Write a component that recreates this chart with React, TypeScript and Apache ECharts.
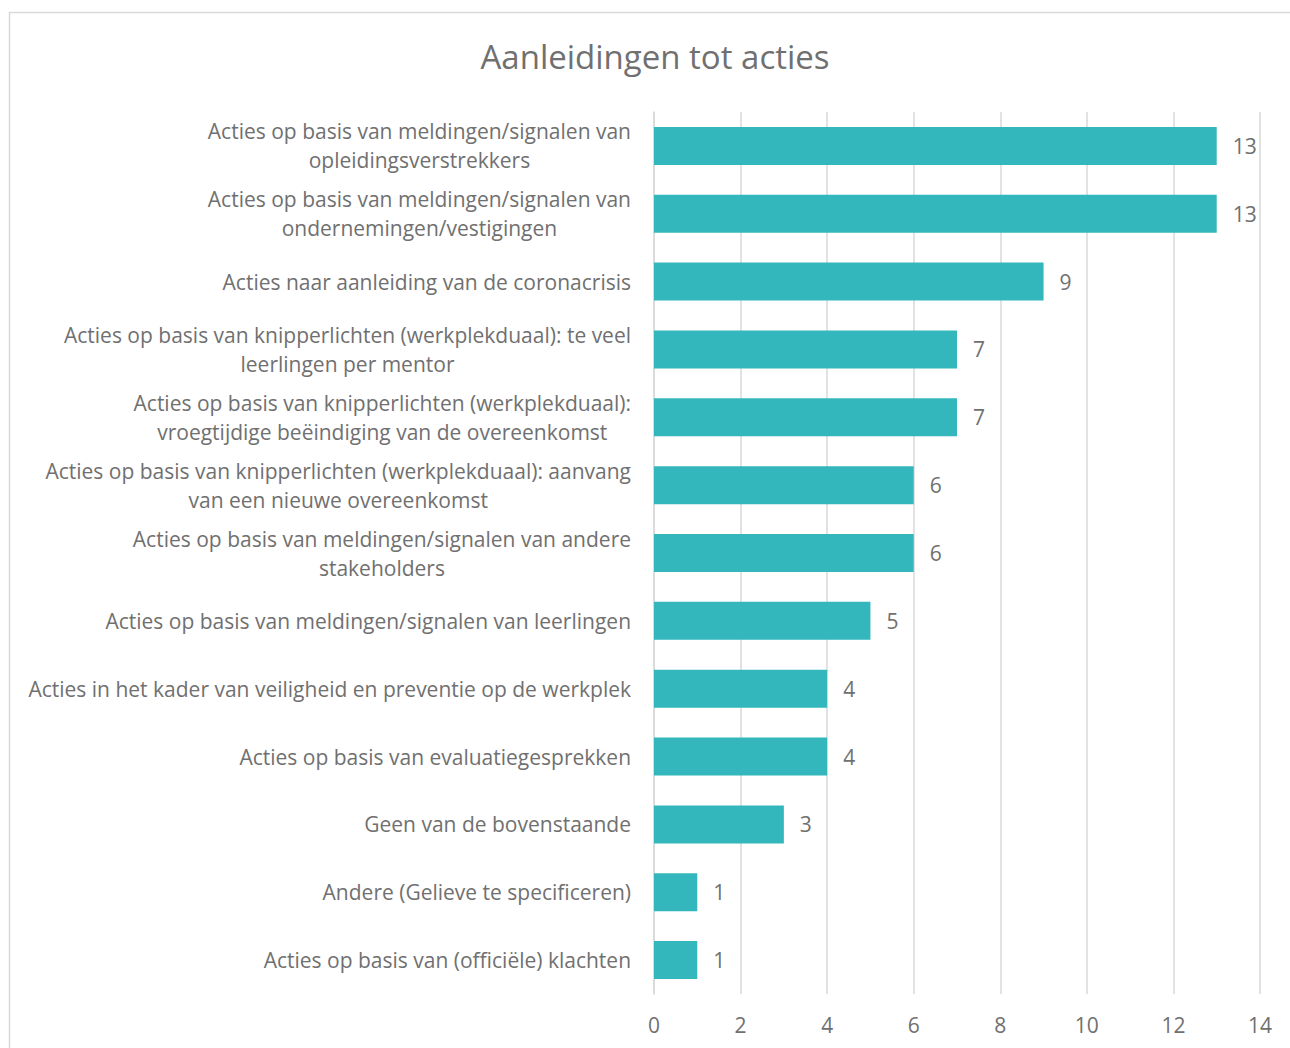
import React, { useEffect, useRef } from "react";
import * as echarts from "echarts";

const title = "Aanleidingen tot acties";

const categories: string[] = [
  "Acties op basis van meldingen/signalen van\nopleidingsverstrekkers",
  "Acties op basis van meldingen/signalen van\nondernemingen/vestigingen",
  "Acties naar aanleiding van de coronacrisis",
  "Acties op basis van knipperlichten (werkplekduaal): te veel\nleerlingen per mentor",
  "Acties op basis van knipperlichten (werkplekduaal):\nvroegtijdige beëindiging van de overeenkomst",
  "Acties op basis van knipperlichten (werkplekduaal): aanvang\nvan een nieuwe overeenkomst",
  "Acties op basis van meldingen/signalen van andere\nstakeholders",
  "Acties op basis van meldingen/signalen van leerlingen",
  "Acties in het kader van veiligheid en preventie op de werkplek",
  "Acties op basis van evaluatiegesprekken",
  "Geen van de bovenstaande",
  "Andere (Gelieve te specificeren)",
  "Acties op basis van (officiële) klachten",
];

const values: number[] = [13, 13, 9, 7, 7, 6, 6, 5, 4, 4, 3, 1, 1];

const axisMin = 0;
const axisMax = 14;
const axisStep = 2;

const FONT = "'Open Sans', Lato, sans-serif";
const TEXT = "#707070";
const BAR = "#33B7BC";
const GRID = "#D9D9D9";

export default function App() {
  const ref = useRef<HTMLDivElement>(null);
  useEffect(() => {
    if (!ref.current) return;
    const chart = echarts.init(ref.current, undefined, { renderer: "svg" });
    chart.setOption({
      animation: false,
      backgroundColor: "#ffffff",
      textStyle: { fontFamily: FONT },
      graphic: [
        {
          type: "rect",
          shape: { x: 9.5, y: 12.5, width: 1400, height: 1200 },
          style: { fill: "none", stroke: GRID, lineWidth: 1.5 },
          silent: true,
        },
        {
          type: "text",
          x: 655,
          y: 56,
          style: {
            text: title,
            fill: TEXT,
            font: `33px ${FONT}`,
            textAlign: "center",
            textVerticalAlign: "middle",
          },
        },
      ],
      grid: { left: 654, right: 30, top: 112, bottom: 54, containLabel: false },
      xAxis: {
        type: "value",
        min: axisMin,
        max: axisMax,
        interval: axisStep,
        axisLine: { show: false },
        axisTick: { show: false },
        splitLine: { show: true, lineStyle: { color: GRID, width: 1.5 } },
        axisLabel: { color: TEXT, fontSize: 21, fontFamily: FONT, margin: 20 },
      },
      yAxis: {
        type: "category",
        inverse: true,
        data: categories,
        axisLine: { show: true, lineStyle: { color: GRID, width: 1.5 } },
        axisTick: { show: false },
        axisLabel: {
          margin: 23,
          formatter: (v: string) => `{c|${v}}`,
          rich: {
            c: {
              align: "center",
              color: TEXT,
              fontSize: 21,
              fontFamily: FONT,
              lineHeight: 29,
            },
          },
        },
      },
      series: [
        {
          type: "bar",
          data: values,
          barWidth: 38,
          itemStyle: { color: BAR },
          label: {
            show: true,
            position: "right",
            distance: 16,
            color: TEXT,
            fontSize: 21,
            fontFamily: FONT,
          },
        },
      ],
    });
    return () => chart.dispose();
  }, []);
  return (
    <div
      ref={ref}
      style={{ position: "absolute", left: 0, top: 0, width: 1290, height: 1048 }}
    />
  );
}
